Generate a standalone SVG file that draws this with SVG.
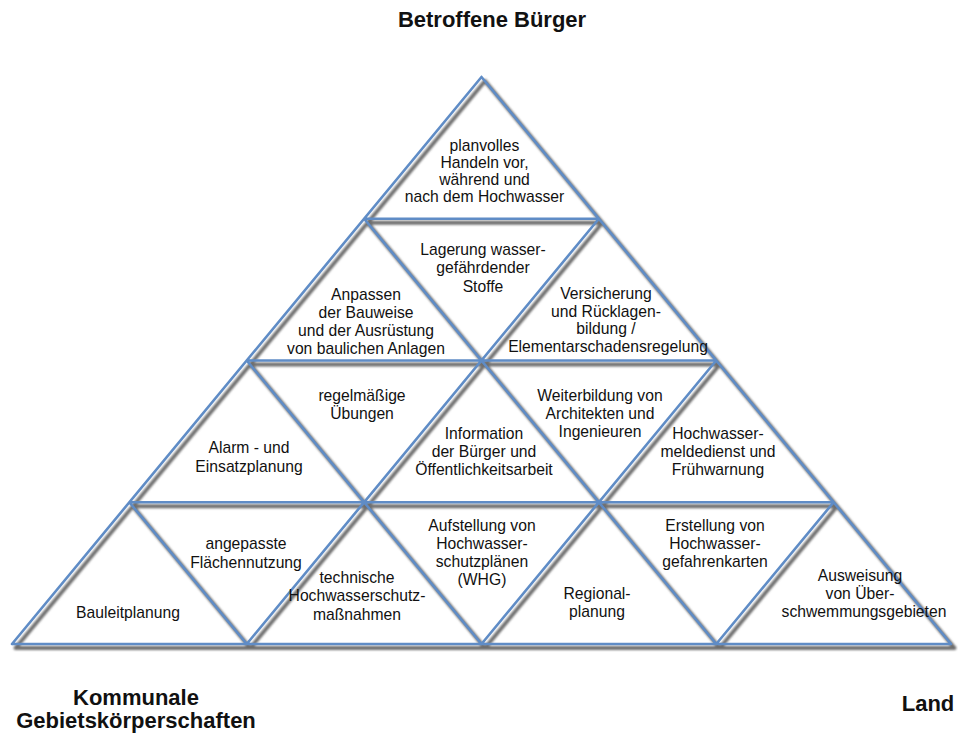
<svg xmlns="http://www.w3.org/2000/svg" width="958" height="740" viewBox="0 0 958 740">
<style>
.t{font-family:"Liberation Sans",Arial,sans-serif;font-size:15.7px;fill:#111;text-anchor:middle}
.h{font-family:"Liberation Sans",Arial,sans-serif;font-size:22px;font-weight:bold;fill:#111;text-anchor:middle}
.sh{fill:none;stroke:#6e6e6e;stroke-width:3.8;stroke-linecap:round;stroke-linejoin:round}
.bl{fill:none;stroke:#5f8cc6;stroke-width:2.6;stroke-linecap:round;stroke-linejoin:round}
</style>
<defs>
<filter id="blur" x="-5%" y="-5%" width="110%" height="110%"><feGaussianBlur stdDeviation="1.1"/></filter>
<path id="grid" d="M364.125,218.75 H598.875 M246.75,360.5 H716.25 M129.375,502.25 H833.625 M12,644 H951 M481.5,77 L12,644 M598.875,218.75 L246.75,644 M716.25,360.5 L481.5,644 M833.625,502.25 L716.25,644 M481.5,77 L951,644 M364.125,218.75 L716.25,644 M246.75,360.5 L481.5,644 M129.375,502.25 L246.75,644"/>
</defs>
<rect width="958" height="740" fill="#fff"/>
<g id="lines">
<use href="#grid" class="sh" transform="translate(3.5,4)" filter="url(#blur)"/>
<use href="#grid" class="bl"/>
</g>
<g id="title"><text class="h" x="492" y="27">Betroffene Bürger</text></g>
<g id="kommunale"><text class="h" x="136" y="705">Kommunale</text><text class="h" x="136" y="728">Gebietskörperschaften</text></g>
<g id="land"><text class="h" x="928" y="711">Land</text></g>
<g id="t1"><text class="t" x="484.5" y="151">planvolles</text><text class="t" x="484.5" y="168">Handeln vor,</text><text class="t" x="484.5" y="185">während und</text><text class="t" x="484.5" y="202">nach dem Hochwasser</text></g>
<g id="t2"><text class="t" x="483" y="255">Lagerung wasser-</text><text class="t" x="483" y="273">gefährdender</text><text class="t" x="483" y="292">Stoffe</text></g>
<g id="t3"><text class="t" x="366" y="300">Anpassen</text><text class="t" x="366" y="318">der Bauweise</text><text class="t" x="366" y="336">und der Ausrüstung</text><text class="t" x="366" y="354">von baulichen Anlagen</text></g>
<g id="t4"><text class="t" x="606" y="299">Versicherung</text><text class="t" x="606" y="317">und Rücklagen-</text><text class="t" x="606" y="334">bildung /</text><text class="t" x="608" y="352">Elementarschadensregelung</text></g>
<g id="t5"><text class="t" x="249" y="453">Alarm - und</text><text class="t" x="249" y="472">Einsatzplanung</text></g>
<g id="t6"><text class="t" x="362" y="401">regelmäßige</text><text class="t" x="362" y="419">Übungen</text></g>
<g id="t7"><text class="t" x="484" y="439">Information</text><text class="t" x="484" y="457">der Bürger und</text><text class="t" x="484" y="475">Öffentlichkeitsarbeit</text></g>
<g id="t8"><text class="t" x="600" y="401">Weiterbildung von</text><text class="t" x="600" y="419">Architekten und</text><text class="t" x="600" y="437">Ingenieuren</text></g>
<g id="t9"><text class="t" x="718" y="439">Hochwasser-</text><text class="t" x="718" y="457">meldedienst und</text><text class="t" x="718" y="475">Frühwarnung</text></g>
<g id="t10"><text class="t" x="128" y="618">Bauleitplanung</text></g>
<g id="t11"><text class="t" x="246" y="549">angepasste</text><text class="t" x="246" y="568">Flächennutzung</text></g>
<g id="t12"><text class="t" x="357" y="583">technische</text><text class="t" x="357" y="601">Hochwasserschutz-</text><text class="t" x="357" y="620">maßnahmen</text></g>
<g id="t13"><text class="t" x="482" y="531">Aufstellung von</text><text class="t" x="482" y="549">Hochwasser-</text><text class="t" x="482" y="567">schutzplänen</text><text class="t" x="482" y="585">(WHG)</text></g>
<g id="t14"><text class="t" x="597" y="599">Regional-</text><text class="t" x="597" y="617">planung</text></g>
<g id="t15"><text class="t" x="715" y="531">Erstellung von</text><text class="t" x="715" y="549">Hochwasser-</text><text class="t" x="715" y="567">gefahrenkarten</text></g>
<g id="t16"><text class="t" x="860" y="581">Ausweisung</text><text class="t" x="860" y="599">von Über-</text><text class="t" x="864" y="617">schwemmungsgebieten</text></g>
</svg>
